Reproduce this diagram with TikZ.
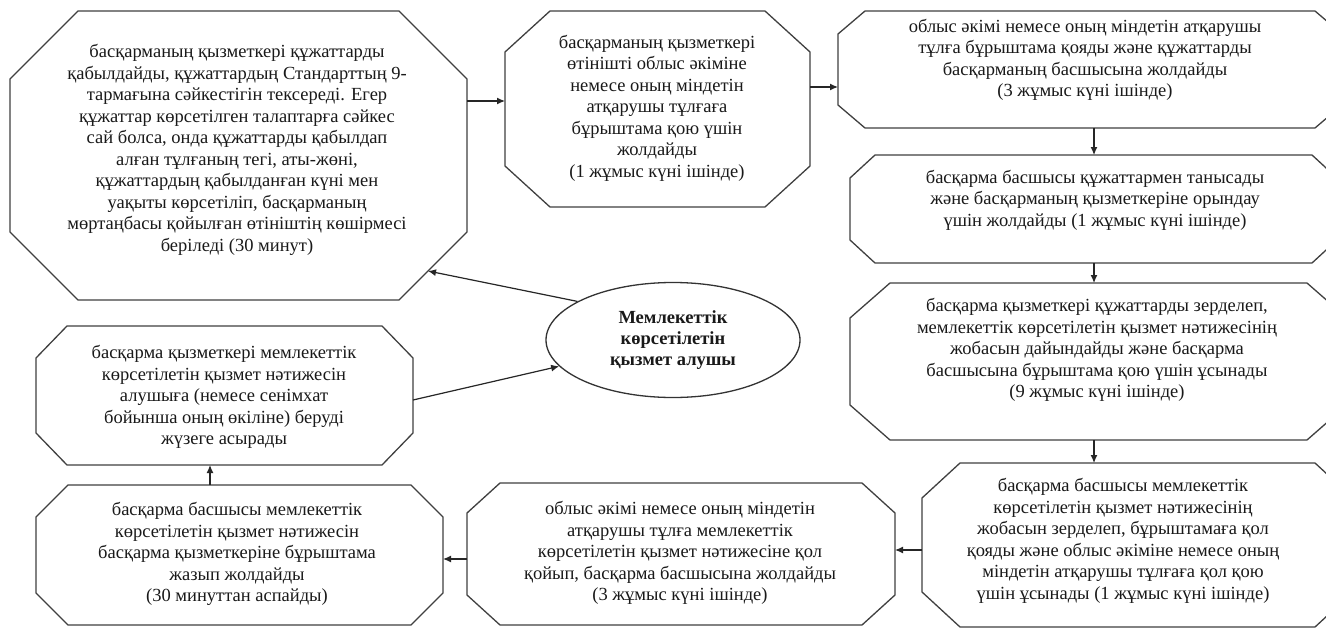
\documentclass[tikz,border=0pt]{standalone}
\usepackage{fontspec}
\setmainfont{Liberation Serif}
\usetikzlibrary{arrows.meta,shapes.geometric,calc}
\tikzset{
  box/.style={rectangle, inner sep=0pt, outer sep=0pt},
  octline/.style={draw=black!75, line width=1.3pt, fill=white, line join=miter},
  txt/.style={align=center, font=\fontsize{18.5}{21.5}\selectfont, text=black!90, inner sep=0pt},
  ell/.style={ellipse, draw=black!80, line width=1.3pt, fill=white, align=center,
    font=\bfseries\fontsize{18.5}{21}\selectfont, text=black!90, inner sep=0pt},
  arr/.style={-{Latex[length=8pt,width=7pt]}, draw=black!85, line width=1.2pt}
}
\newcommand\mkbox[7]{%
  \node[box, minimum width={#4pt-#2pt}, minimum height={#5pt-#3pt}] (#1) at ({(#2+#4)/2},{(#3+#5)/2}) {};
  \draw[octline] ([xshift=#6pt]#1.north west) -- ([xshift=-#6pt]#1.north east)
    -- ([yshift=-#7pt]#1.north east) -- ([yshift=#7pt]#1.south east)
    -- ([xshift=-#6pt]#1.south east) -- ([xshift=#6pt]#1.south west)
    -- ([yshift=#7pt]#1.south west) -- ([yshift=-#7pt]#1.north west) -- cycle;}
\begin{document}
\begin{tikzpicture}[x=1pt,y=-1pt]
\useasboundingbox (0,0) rectangle (1326,629);
\clip (0,0) rectangle (1326,629);
\fill[white] (0,0) rectangle (1326,629);
% boxes
\mkbox{b1}{10}{11}{467}{300}{68}{68}
\mkbox{b2}{505}{11}{810}{207}{45}{41}
\mkbox{b3}{838}{11}{1342}{128}{27}{23}
\mkbox{b4}{850}{155}{1337}{263}{25}{23}
\mkbox{b5}{850}{283}{1347}{440}{40}{35}
\mkbox{b6}{922}{463}{1353}{627}{38}{35}
\mkbox{b7}{467}{483}{895}{625}{33}{30}
\mkbox{b8}{36}{485}{443}{625}{32}{32}
\mkbox{b9}{36}{326}{413}{465}{31}{32}
% texts
\node[txt] (t1) at (237,150) {басқарманың қызметкері құжаттарды\\қабылдайды, құжаттардың Стандарттың 9-\\тармағына сәйкестігін тексереді. Егер\\құжаттар көрсетілген талаптарға сәйкес\\сай болса, онда құжаттарды қабылдап\\алған тұлғаның тегі, аты-жөні,\\құжаттардың қабылданған күні мен\\уақыты көрсетіліп, басқарманың\\мөртаңбасы қойылған өтініштің көшірмесі\\беріледі (30 минут)};
\node[txt] (t2) at (657,108) {басқарманың қызметкері\\өтінішті облыс әкіміне\\немесе оның міндетін\\атқарушы тұлғаға\\бұрыштама қою үшін\\жолдайды\\(1 жұмыс күні ішінде)};
\node[txt] (t3) at (1085,60) {облыс әкімі немесе оның міндетін атқарушы\\тұлға бұрыштама қояды және құжаттарды\\басқарманың басшысына жолдайды\\(3 жұмыс күні ішінде)};
\node[txt] (t4) at (1095,200) {басқарма басшысы құжаттармен танысады\\және басқарманың қызметкеріне орындау\\үшін жолдайды (1 жұмыс күні ішінде)};
\node[txt] (t5) at (1097,350) {басқарма қызметкері құжаттарды зерделеп,\\мемлекеттік көрсетілетін қызмет нәтижесінің\\жобасын дайындайды және басқарма\\басшысына бұрыштама қою үшін ұсынады\\(9 жұмыс күні ішінде)};
\node[txt] (t6) at (1123,541) {басқарма басшысы мемлекеттік\\көрсетілетін қызмет нәтижесінің\\жобасын зерделеп, бұрыштамаға қол\\қояды және облыс әкіміне немесе оның\\міндетін атқарушы тұлғаға қол қою\\үшін ұсынады (1 жұмыс күні ішінде)};
\node[txt] (t7) at (680,553) {облыс әкімі немесе оның міндетін\\атқарушы тұлға мемлекеттік\\көрсетілетін қызмет нәтижесіне қол\\қойып, басқарма басшысына жолдайды\\(3 жұмыс күні ішінде)};
\node[txt] (t8) at (237,554) {басқарма басшысы мемлекеттік\\көрсетілетін қызмет нәтижесін\\басқарма қызметкеріне бұрыштама\\жазып жолдайды\\(30 минуттан аспайды)};
\node[txt] (t9) at (224,397) {басқарма қызметкері мемлекеттік\\көрсетілетін қызмет нәтижесін\\алушыға (немесе сенімхат\\бойынша оның өкіліне) беруді\\жүзеге асырады};
% ellipse
\node[ell, minimum width=254pt, minimum height=115pt] (e) at (673,340) {Мемлекеттік\\көрсетілетін\\қызмет алушы};
% connectors
\coordinate (b1hit) at (428,271);
\draw[arr] (b1.east |- 0,101) -- (b2.west |- 0,101);
\draw[arr] (b2.east |- 0,87) -- (b3.west |- 0,87);
\draw[arr] (b3.south -| 1094,0) -- (b4.north -| 1094,0);
\draw[arr] (b4.south -| 1094,0) -- (b5.north -| 1094,0);
\draw[arr] (b5.south -| 1094,0) -- (b6.north -| 1094,0);
\draw[arr] (b6.west |- 0,550) -- (b7.east |- 0,550);
\draw[arr] (b7.west |- 0,559) -- (b8.east |- 0,559);
\draw[arr] (b8.north -| 210,0) -- (b9.south -| 210,0);
\draw[arr] (b9.east |- 0,400) -- (e.193);
\draw[arr] (e.158) -- (b1hit);
\end{tikzpicture}
\end{document}
